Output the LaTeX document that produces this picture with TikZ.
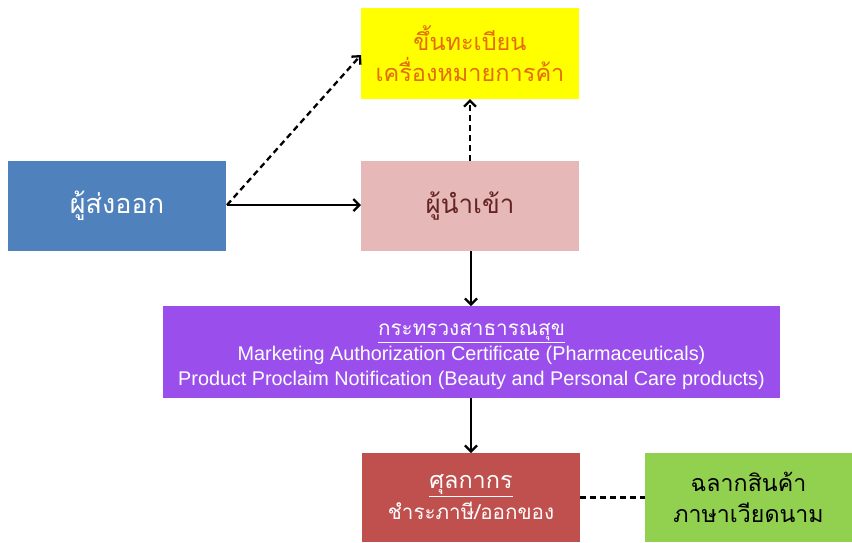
\documentclass[tikz,border=0pt]{standalone}
\usepackage{fontspec}
\setmainfont{Liberation Sans}
\newfontfamily\thai[Script=Thai]{Loma}
\usetikzlibrary{arrows.meta}
\definecolor{cblue}{HTML}{4F81BD}
\definecolor{cpink}{HTML}{E6B9B8}
\definecolor{cpinktxt}{HTML}{632523}
\definecolor{cyellow}{HTML}{FFFF00}
\definecolor{corange}{HTML}{E46C0A}
\definecolor{cpurple}{HTML}{9A4FEC}
\definecolor{cred}{HTML}{C0504D}
\definecolor{cgreen}{HTML}{92D050}
\tikzset{
  box/.style={rectangle, inner sep=0pt, outer sep=0pt, align=center},
  conn/.style={line width=2.3pt, -{Straight Barb[length=6pt,width=12pt,line width=2.3pt]}},
  dconn/.style={conn, dash pattern=on 6pt off 4pt},
}
\begin{document}
\begin{tikzpicture}[x=1pt,y=-1pt]
\useasboundingbox (0,0) rectangle (852,542);
% boxes
\node[box, fill=cyellow, minimum width=218pt, minimum height=91pt, text=corange, font=\thai\fontsize{23.5}{31}\selectfont] (reg) at (470,53.5) {ขึ้นทะเบียน\\เครื่องหมายการค้า};
\node[box, fill=cblue, minimum width=218pt, minimum height=90pt, text=white, font=\thai\fontsize{27}{30}\selectfont] (exp) at (117,206) {ผู้ส่งออก};
\node[box, fill=cpink, minimum width=218pt, minimum height=90pt, text=cpinktxt, font=\thai\fontsize{26}{30}\selectfont] (imp) at (470,206) {ผู้นำเข้า};
\node[box, fill=cpurple, minimum width=617pt, minimum height=92pt] (moh) at (471.5,352) {};
\node[box, text=white, font=\fontsize{19.8}{25}\selectfont] (mohtxt) at (471.5,356) {{\thai\fontsize{20.7}{25}\selectfont\underline{กระทรวงสาธารณสุข}}\\Marketing Authorization Certificate (Pharmaceuticals)\\Product Proclaim Notification (Beauty and Personal Care products)};
\node[box, fill=cred, minimum width=218pt, minimum height=89pt, text=white, font=\thai\fontsize{20.6}{31}\selectfont] (cus) at (471,497.5) {\fontsize{23.4}{31}\selectfont\underline{ศุลกากร}\\ชำระภาษี/ออกของ};
\node[box, fill=cgreen, minimum width=207pt, minimum height=89pt, text=black, font=\thai\fontsize{23.2}{31}\selectfont] (lab) at (748.5,497.5) {ฉลากสินค้า\\ภาษาเวียดนาม};
% connectors
\coordinate (eo) at (227,205);
\draw[conn] (eo) -- (imp.west |- eo);
\draw[dconn] (eo) -- (reg.west |- 0,55);
\draw[dconn] (imp.north -| 470,0) -- (reg.south -| 470,0);
\draw[conn] (imp.south -| 471,0) -- (moh.north -| 471,0);
\draw[conn] (moh.south -| 471,0) -- (cus.north -| 471,0);
\draw[line width=2.3pt, dash pattern=on 6pt off 4pt] (cus.east) -- (lab.west);
\end{tikzpicture}
\end{document}
